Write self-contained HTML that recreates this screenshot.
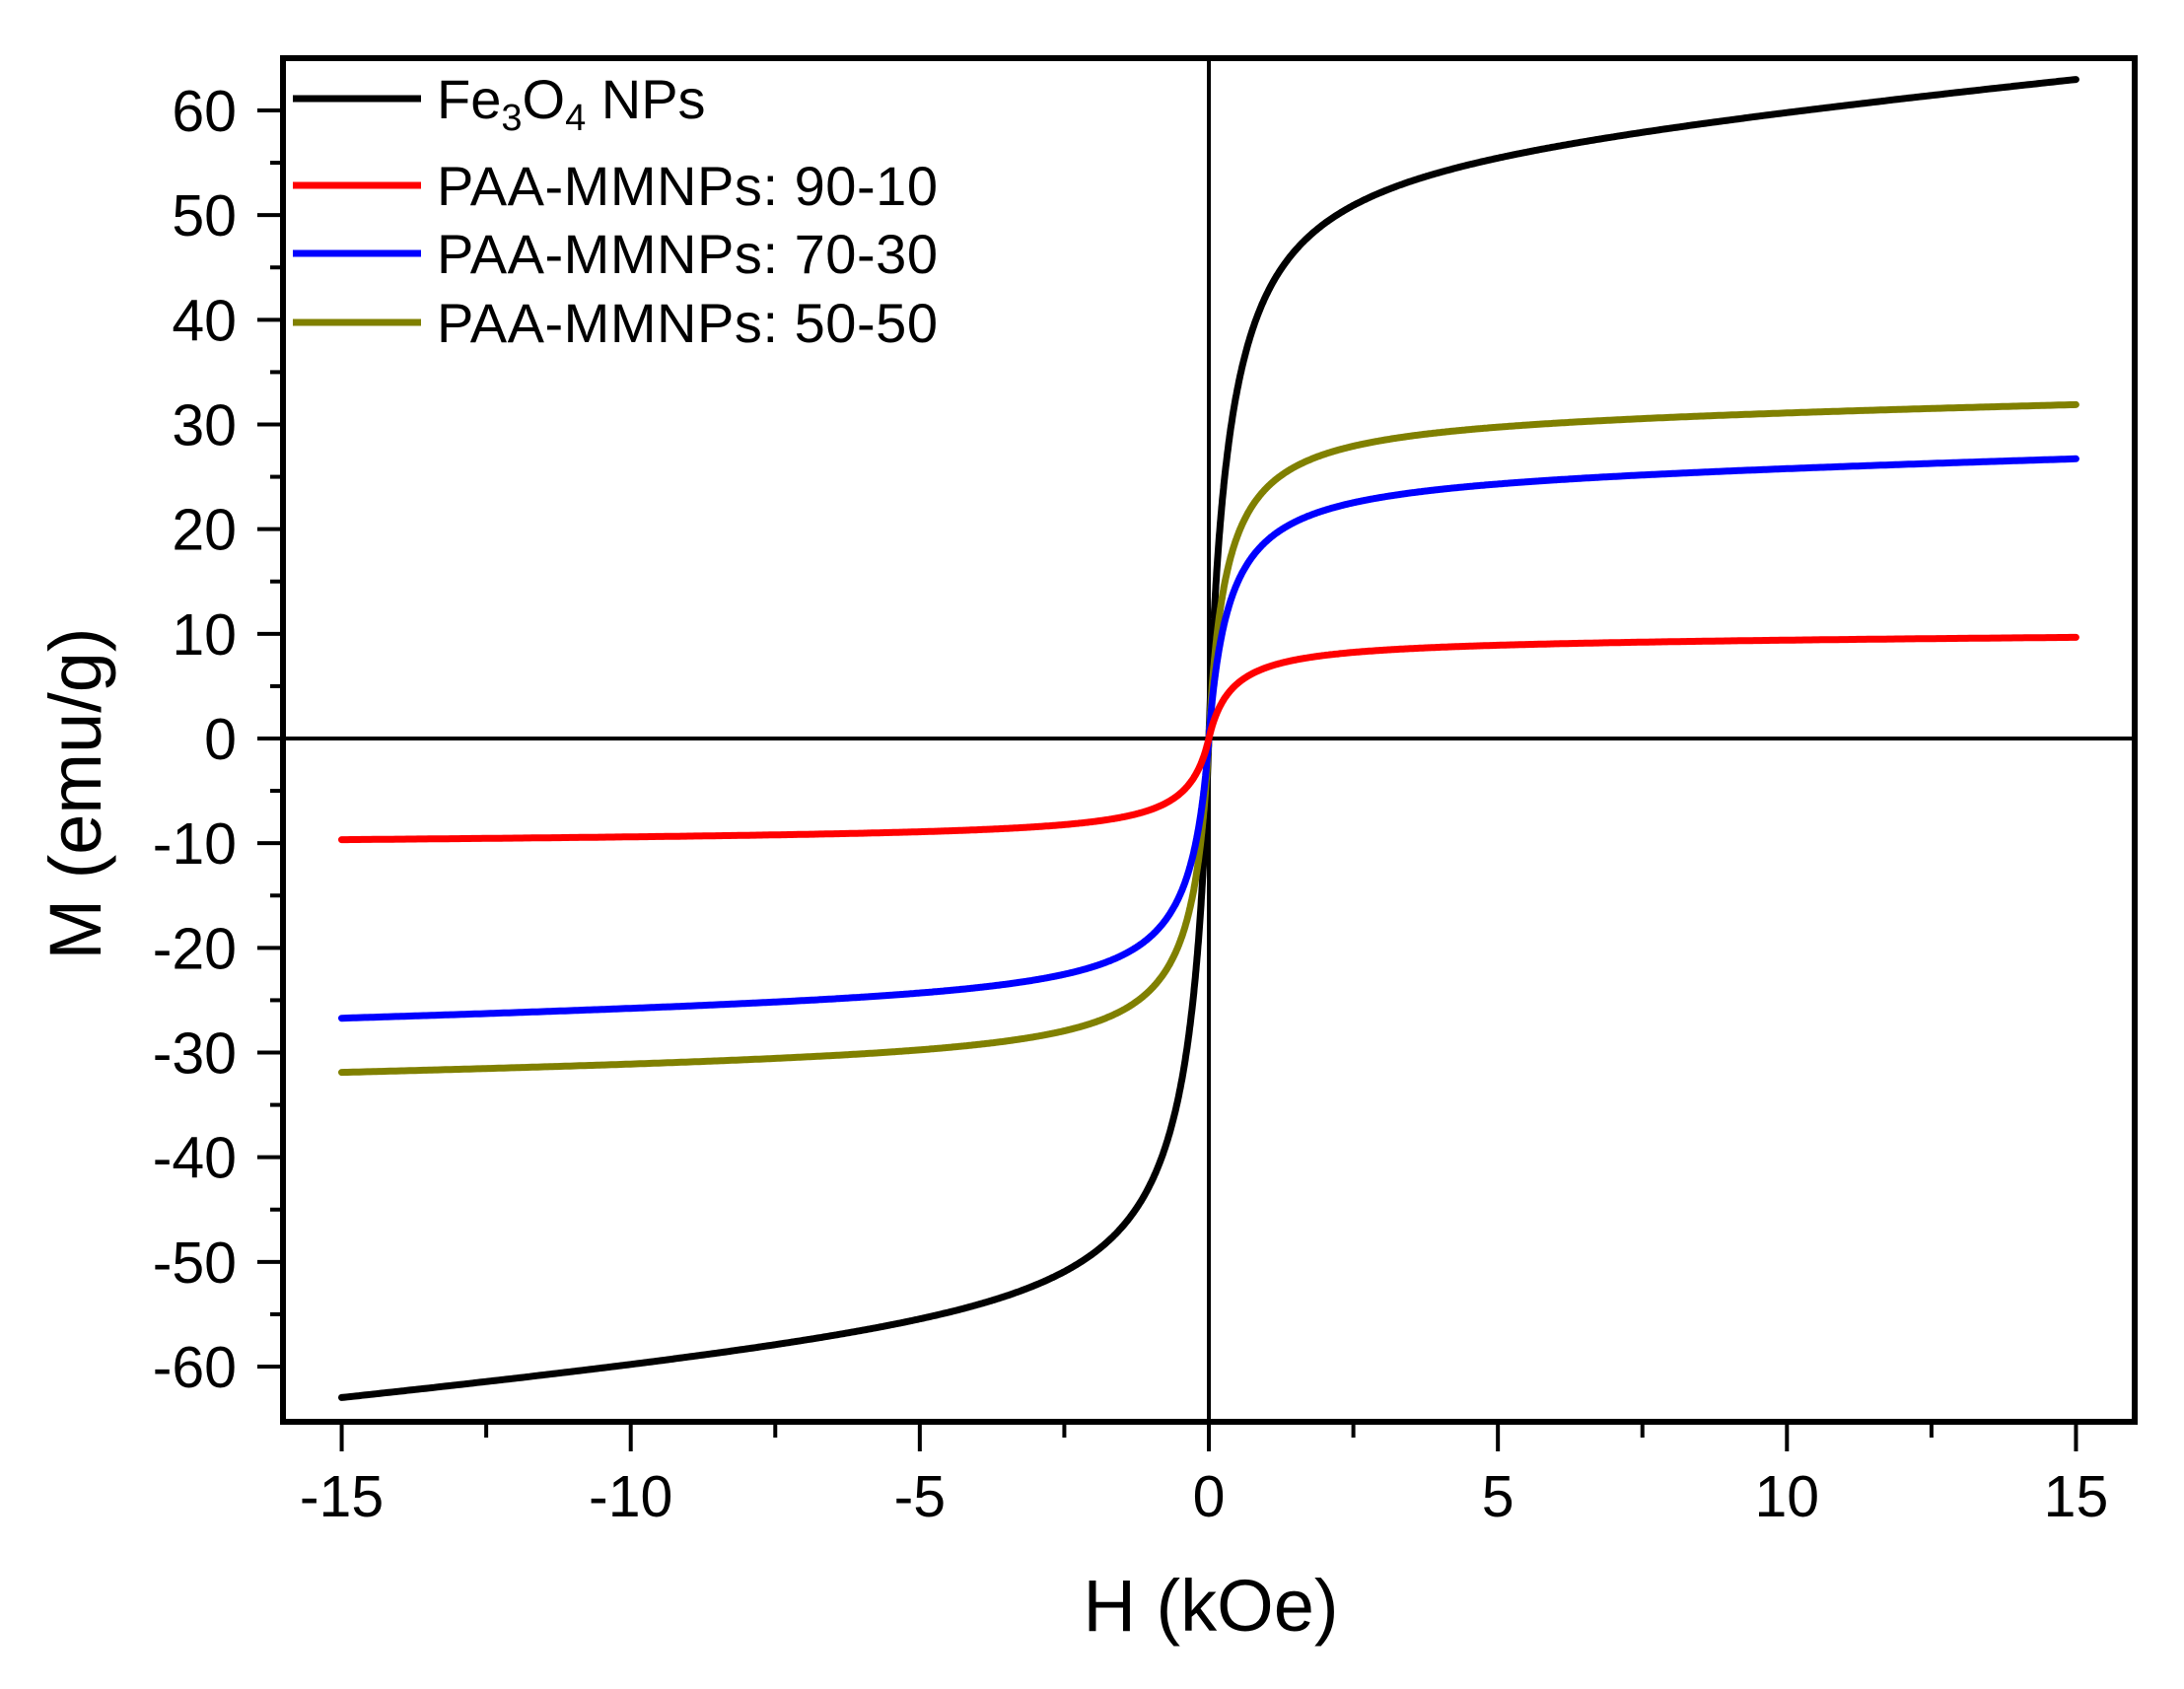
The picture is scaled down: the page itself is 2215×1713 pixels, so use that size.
<!DOCTYPE html>
<html><head><meta charset="utf-8"><style>
html,body{margin:0;padding:0;background:#fff;}
svg{display:block;}
text{font-family:"Liberation Sans",Arial,sans-serif;fill:#000;}
</style></head><body>
<svg id="s" width="2215" height="1713" viewBox="0 0 2215 1713" xmlns="http://www.w3.org/2000/svg">
<rect width="2215" height="1713" fill="#fff"/>
<g id="ticks" stroke="#000" stroke-width="4"></g>
<line x1="287" y1="749" x2="2165" y2="749" stroke="#000" stroke-width="4"/>
<line x1="1226" y1="59" x2="1226" y2="1442" stroke="#000" stroke-width="4"/>
<g id="curves" fill="none" stroke-width="7" stroke-linejoin="round" stroke-linecap="round"></g>
<rect x="287" y="59" width="1878" height="1383" fill="none" stroke="#000" stroke-width="6"/>
<g id="labels" font-size="59"></g>
<text x="1228" y="1654" font-size="74" text-anchor="middle">H (kOe)</text>
<text transform="translate(102,805) rotate(-90)" font-size="74" text-anchor="middle">M (emu/g)</text>
<g font-size="56">
<line x1="297" y1="100" x2="427" y2="100" stroke="#000" stroke-width="7"/>
<text x="443" y="120">Fe<tspan font-size="38" dy="12">3</tspan><tspan dy="-12">O</tspan><tspan font-size="38" dy="12">4</tspan><tspan dy="-12"> NPs</tspan></text>
<line x1="297" y1="188" x2="427" y2="188" stroke="#f00" stroke-width="7"/>
<text x="443" y="208" textLength="508">PAA-MMNPs: 90-10</text>
<line x1="297" y1="257" x2="427" y2="257" stroke="#00f" stroke-width="7"/>
<text x="443" y="277" textLength="508">PAA-MMNPs: 70-30</text>
<line x1="297" y1="327" x2="427" y2="327" stroke="#808000" stroke-width="7"/>
<text x="443" y="347" textLength="508">PAA-MMNPs: 50-50</text>
</g>
</svg>
<script>
(function(){
var NS="http://www.w3.org/2000/svg";
function X(h){return 1226+h*58.63;}
function Y(m){return 749-m*10.617;}
var t=document.getElementById('ticks'),l=document.getElementById('labels');
function line(g,a,b,c,d){var e=document.createElementNS(NS,'line');e.setAttribute('x1',a);e.setAttribute('y1',b);e.setAttribute('x2',c);e.setAttribute('y2',d);g.appendChild(e);}
function txt(x,y,s,anc){var e=document.createElementNS(NS,'text');e.setAttribute('x',x);e.setAttribute('y',y);e.setAttribute('text-anchor',anc);e.textContent=s;l.appendChild(e);}
for(var m=-60;m<=60;m+=5){var y=Y(m);var maj=(m%10===0);line(t,maj?261:274,y,287,y);if(maj)txt(240,y+21,String(m),'end');}
for(var h=-15;h<=15;h+=2.5){var x=X(h);var maj=(h%5===0);line(t,x,1442,x,maj?1472:1458);if(maj)txt(x,1538,String(h),'middle');}
var series=[['#000',56.6,0.51,0.35],['#808000',31.0,0.10,0.3],['#00f',25.3,0.133,0.35],['#f00',9.46,0.03,0.4]];
var g=document.getElementById('curves');
series.forEach(function(s){var d='';for(var i=0;i<=1200;i++){var u=-1+2*i/1200;var h=15*Math.sign(u)*Math.pow(Math.abs(u),2);var m=s[1]*h/(Math.abs(h)+s[3])+s[2]*h;d+=(i?'L':'M')+X(h).toFixed(1)+' '+Y(m).toFixed(1);}
var p=document.createElementNS(NS,'path');p.setAttribute('d',d);p.setAttribute('stroke',s[0]);g.appendChild(p);});
})();
</script>
</body></html>
